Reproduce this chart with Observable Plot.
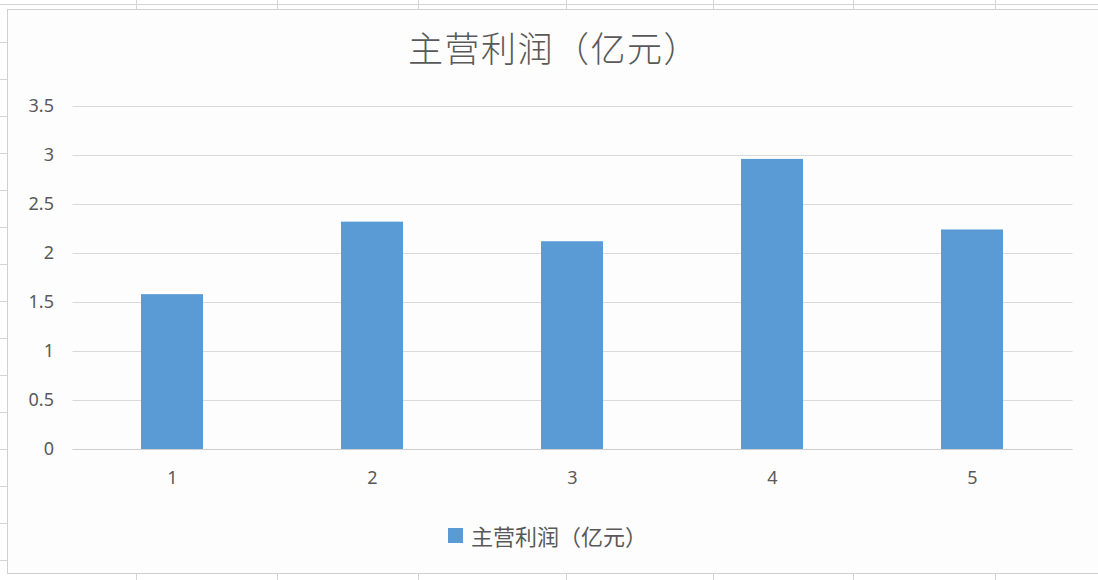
<!DOCTYPE html>
<html>
<head>
<meta charset="utf-8">
<script src="https://cdn.jsdelivr.net/npm/d3@7"></script>
<script src="https://cdn.jsdelivr.net/npm/@observablehq/plot@0.6"></script>
<style>
  html, body { margin: 0; padding: 0; background: #fff; }
  body { width: 1098px; height: 580px; position: relative; overflow: hidden; font-family: "Noto Sans CJK SC", "Noto Sans", sans-serif; }
  .cellv { position: absolute; width: 1px; background: #d4d4d4; }
  .cellh { position: absolute; height: 1px; background: #d4d4d4; }
  #chartArea { position: absolute; left: 7px; top: 9px; width: 1100px; height: 563px; border: 1px solid #d0d0d0; background: #fdfdfd; }
  #plot { position: absolute; left: 0; top: 0; }
  #title { position: absolute; left: 408px; top: 29px; font-size: 35px; line-height: 35px; letter-spacing: 1.5px; color: #595959; white-space: nowrap; font-weight: 300; }
  #legend { position: absolute; left: 448px; top: 524px; height: 22px; display: flex; align-items: center; white-space: nowrap; }
  #legend .sw { width: 15px; height: 15px; background: #5B9BD5; margin-right: 8px; }
  #legend .lab { font-size: 22px; line-height: 22px; color: #595959; }
</style>
</head>
<body>
<div id="grid"></div>
<div id="chartArea"></div>
<div id="plot"></div>
<div id="title"></div>
<div id="legend"><div class="sw"></div><div class="lab"></div></div>
<script>
const title = "主营利润（亿元）";
const seriesName = "主营利润（亿元）";
const categories = ["1", "2", "3", "4", "5"];
const values = [1.58, 2.32, 2.12, 2.96, 2.24];
const yTicks = [0, 0.5, 1, 1.5, 2, 2.5, 3, 3.5];

// spreadsheet background grid (decoration)
const grid = document.getElementById("grid");
const colXs = [136, 277, 418, 566, 713, 853, 995];
colXs.forEach(x => {
  const a = document.createElement("div"); a.className = "cellv";
  a.style.left = x + "px"; a.style.top = "0px"; a.style.height = "9px"; grid.appendChild(a);
  const b = document.createElement("div"); b.className = "cellv";
  b.style.left = x + "px"; b.style.top = "573px"; b.style.height = "7px"; grid.appendChild(b);
});
const topLine = document.createElement("div"); topLine.className = "cellh";
topLine.style.left = "0px"; topLine.style.top = "4px"; topLine.style.width = "1098px"; grid.appendChild(topLine);
for (let y = 42; y < 575; y += 37) {
  const h = document.createElement("div"); h.className = "cellh";
  h.style.left = "0px"; h.style.top = y + "px"; h.style.width = "7px"; grid.appendChild(h);
}

document.getElementById("title").textContent = title;
document.querySelector("#legend .lab").textContent = seriesName;

const data = categories.map((c, i) => ({category: c, value: values[i]}));

const chart = Plot.plot({
  width: 1098,
  height: 580,
  marginTop: 106,
  marginBottom: 131,
  marginLeft: 72.5,
  marginRight: 25.5,
  style: {background: "transparent", fontFamily: "'Noto Sans', 'Noto Sans CJK SC', sans-serif", fontSize: "18px", color: "#595959"},
  x: {domain: categories, paddingInner: 0.688, paddingOuter: 0.344, label: null},
  y: {domain: [0, 3.5], label: null},
  marks: [
    Plot.gridY(yTicks, {stroke: "#d9d9d9", strokeOpacity: 1, strokeWidth: 1.2}),
    Plot.barY(data, {x: "category", y: "value", fill: "#5B9BD5"}),
    Plot.ruleY([0], {stroke: "#d0d0d0", strokeWidth: 1.2}),
    Plot.axisY(yTicks, {tickSize: 0, tickPadding: 19, tickFormat: d => String(d), fill: "#595959", fontSize: 18}),
    Plot.axisX({tickSize: 0, tickPadding: 22, fill: "#595959", fontSize: 18})
  ]
});
document.getElementById("plot").appendChild(chart);
</script>
</body>
</html>
